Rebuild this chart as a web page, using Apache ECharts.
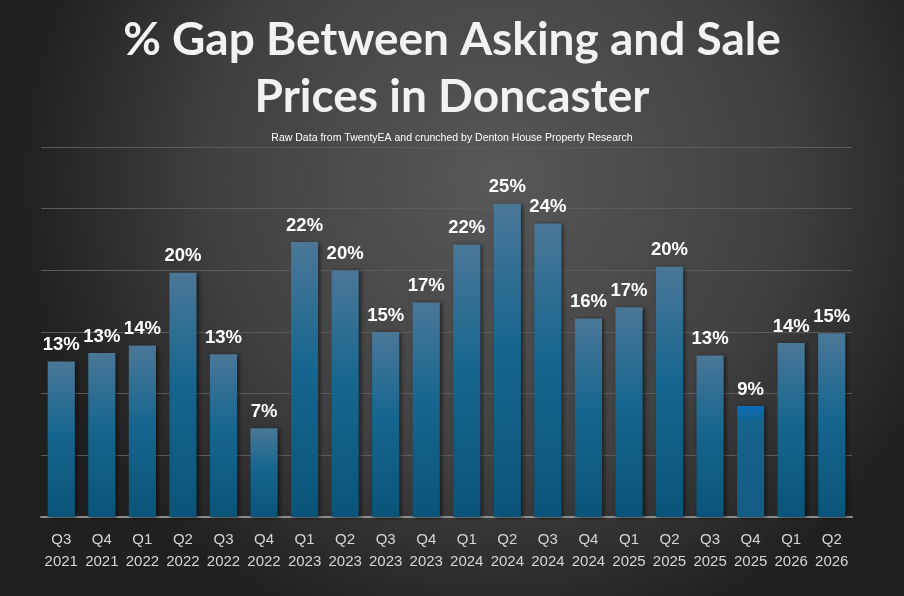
<!DOCTYPE html>
<html>
<head>
<meta charset="utf-8">
<script src="https://cdn.jsdelivr.net/npm/echarts@6/dist/echarts.min.js"></script>
<style>
  html, body { margin: 0; padding: 0; background: #333; }
  #chart { width: 904px; height: 596px; }
</style>
</head>
<body>
<div id="chart"></div>
<script>
// quarters and the gap (%)
var quarters = ['Q3\n2021', 'Q4\n2021', 'Q1\n2022', 'Q2\n2022', 'Q3\n2022', 'Q4\n2022',
  'Q1\n2023', 'Q2\n2023', 'Q3\n2023', 'Q4\n2023', 'Q1\n2024', 'Q2\n2024', 'Q3\n2024',
  'Q4\n2024', 'Q1\n2025', 'Q2\n2025', 'Q3\n2025', 'Q4\n2025', 'Q1\n2026', 'Q2\n2026'];
var gapPct = [12.6, 13.3, 13.9, 19.8, 13.2, 7.2, 22.3, 20.0, 15.0, 17.4, 22.1, 25.4, 23.8,
  16.1, 17.0, 20.3, 13.1, 9.0, 14.1, 14.9];
var highlightIndex = 17;

var barFill = new echarts.graphic.LinearGradient(0, 0, 0, 1, [
  { offset: 0, color: '#4b7797' },
  { offset: 0.45, color: '#17668f' },
  { offset: 1, color: '#0a5479' }
]);
var highlightFill = new echarts.graphic.LinearGradient(0, 0, 0, 1, [
  { offset: 0, color: '#0a6cba' },
  { offset: 0.15, color: '#16638c' },
  { offset: 1, color: '#135c84' }
]);

var seriesData = gapPct.map(function (v, i) {
  if (i === highlightIndex) {
    return { value: v, itemStyle: { color: highlightFill } };
  }
  return v;
});

var chart = echarts.init(document.getElementById('chart'));
chart.setOption({
  backgroundColor: new echarts.graphic.RadialGradient(0.55, 0.3, 0.8, [
    { offset: 0, color: '#585858' },
    { offset: 0.6, color: '#404040' },
    { offset: 1, color: '#202020' }
  ]),
  title: [{
    text: '% Gap Between Asking and Sale\nPrices in Doncaster',
    left: 'center',
    top: 7,
    textStyle: {
      color: '#f2f2f2',
      fontFamily: 'Lato',
      fontWeight: 'bold',
      fontSize: 46,
      lineHeight: 57
    }
  }, {
    text: 'Raw Data from TwentyEA and crunched by Denton House Property Research',
    left: 'center',
    top: 128,
    textStyle: {
      color: '#ffffff',
      fontFamily: 'Liberation Sans',
      fontWeight: 'normal',
      fontSize: 10.5
    }
  }],
  grid: { left: 41, right: 52, top: 147, bottom: 79 },
  xAxis: {
    type: 'category',
    data: quarters,
    axisLine: { lineStyle: { color: '#8c8c8c', width: 2 } },
    axisTick: { show: false },
    axisLabel: {
      color: '#d6d6d6',
      fontFamily: 'Liberation Sans',
      fontSize: 15,
      lineHeight: 22,
      margin: 12,
      interval: 0
    }
  },
  yAxis: {
    type: 'value',
    min: 0,
    max: 30,
    interval: 5,
    axisLabel: { show: false },
    axisLine: { show: false },
    axisTick: { show: false },
    splitLine: { lineStyle: { color: '#5c5c5c', width: 1 } }
  },
  series: [{
    type: 'bar',
    data: seriesData,
    barWidth: '67%',
    itemStyle: {
      color: barFill,
      shadowColor: 'rgba(0,0,0,0.55)',
      shadowBlur: 4,
      shadowOffsetX: 2,
      shadowOffsetY: 1
    },
    label: {
      show: true,
      position: 'top',
      distance: 7,
      color: '#ffffff',
      fontFamily: 'Liberation Sans',
      fontWeight: 'bold',
      fontSize: 18.5,
      formatter: function (p) { return Math.round(p.value) + '%'; }
    }
  }]
});
</script>
</body>
</html>
